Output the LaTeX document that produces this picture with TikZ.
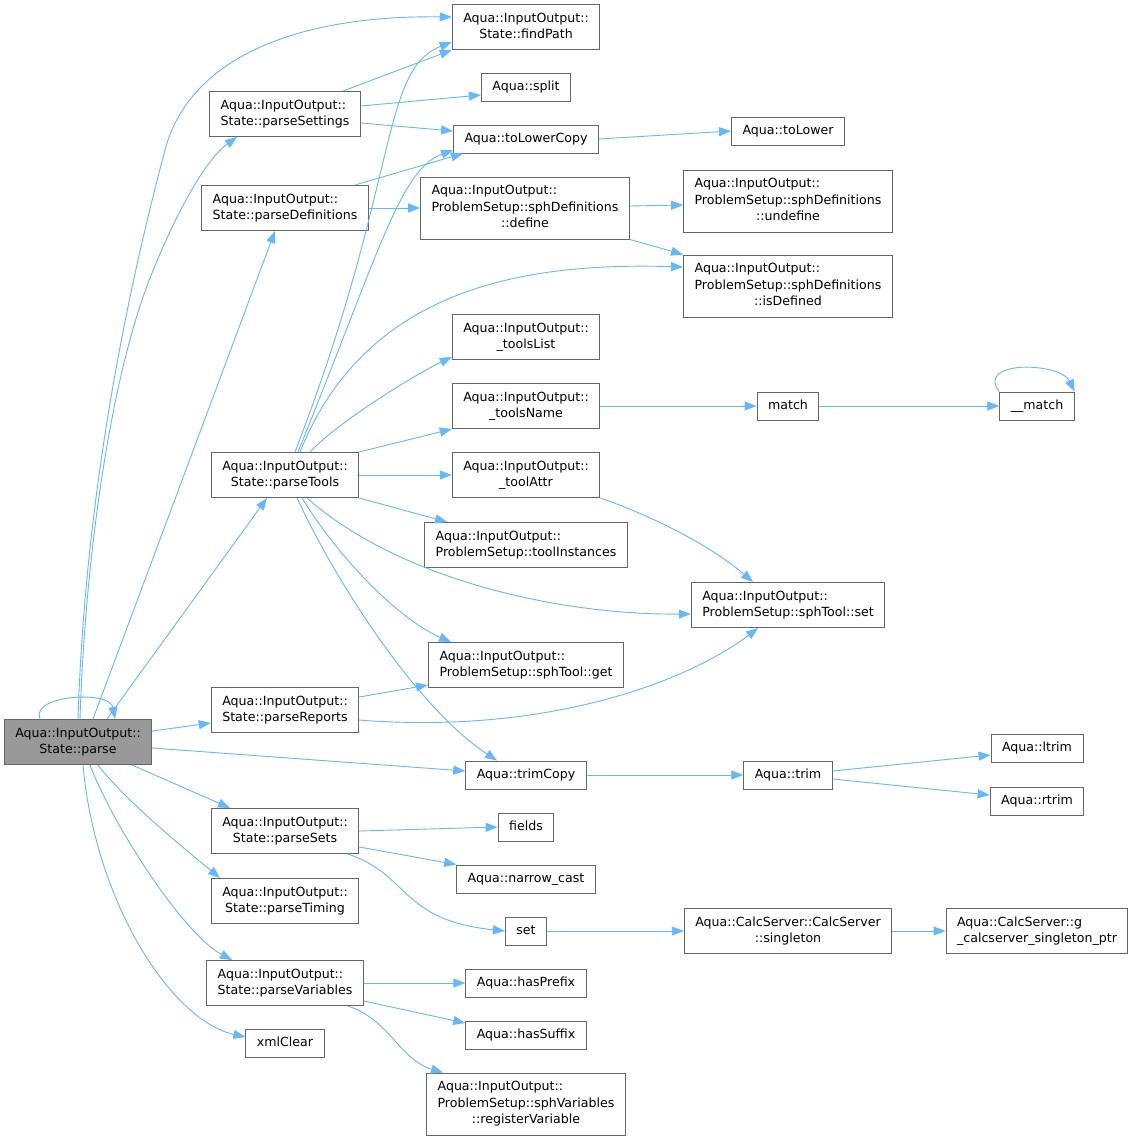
\documentclass[tikz,border=0pt]{standalone}
\usepackage{fontspec}
\setmainfont{DejaVu Sans}
\usepackage{xcolor}
\usetikzlibrary{arrows.meta,
                positioning}
\definecolor{edgeblue}{HTML}{63B8FF}
\definecolor{boxgray}{HTML}{666666}
\definecolor{rootgray}{HTML}{999999}
\newcommand{\fntwo}[2]{\begin{tabular}{@{}l@{}}#1\\\multicolumn{1}{@{}c@{}}{#2}\end{tabular}}
\newcommand{\fnthree}[3]{\begin{tabular}{@{}l@{}}#1\\#2\\\multicolumn{1}{@{}c@{}}{#3}\end{tabular}}
\tikzstyle{fnbox} = [draw=boxgray, line width=1pt, fill=white, inner xsep=11pt, inner ysep=1pt, font=\fontsize{12.6}{16.5}\selectfont]
\tikzstyle{fn} = [fnbox, text height=9.6pt, text depth=3pt, minimum height=28pt]
\tikzstyle{fn2} = [fnbox, minimum height=45pt]
\tikzstyle{fn3} = [fnbox, minimum height=62pt]
\tikzstyle{call} = [edgeblue, line width=0.9pt, -{Triangle[length=12pt,width=9pt]}]

\begin{document}
\begin{tikzpicture}[x=1pt,y=-1pt]
    \path[use as bounding box, fill=white] (0,0) rectangle (1136,1141);

    % column 1
    \node[fn2, fill=rootgray] (parse) at (78,742) {\fntwo{Aqua::InputOutput::}{State::parse}};

    % column 2
    \node[fn2] (parseSettings) at (285,114) {\fntwo{Aqua::InputOutput::}{State::parseSettings}};
    \node[fn2] (parseDefinitions) at (285,208) {\fntwo{Aqua::InputOutput::}{State::parseDefinitions}};
    \node[fn2] (parseTools) at (285,475) {\fntwo{Aqua::InputOutput::}{State::parseTools}};
    \node[fn2] (parseReports) at (285,710) {\fntwo{Aqua::InputOutput::}{State::parseReports}};
    \node[fn2] (parseSets) at (285,831) {\fntwo{Aqua::InputOutput::}{State::parseSets}};
    \node[fn2] (parseTiming) at (285,901) {\fntwo{Aqua::InputOutput::}{State::parseTiming}};
    \node[fn2] (parseVariables) at (285,983) {\fntwo{Aqua::InputOutput::}{State::parseVariables}};
    \node[fn] (xmlClear) at (285,1043) {xmlClear};

    % column 3
    \node[fn2] (findPath) at (526,27) {\fntwo{Aqua::InputOutput::}{State::findPath}};
    \node[fn] (split) at (526,87) {Aqua::split};
    \node[fn] (toLowerCopy) at (526,139) {Aqua::toLowerCopy};
    \node[fn3] (define) at (525,208) {\fnthree{Aqua::InputOutput::}{ProblemSetup::sphDefinitions}{::define}};
    \node[fn2] (toolsList) at (526,337) {\fntwo{Aqua::InputOutput::}{\_toolsList}};
    \node[fn2] (toolsName) at (526,406) {\fntwo{Aqua::InputOutput::}{\_toolsName}};
    \node[fn2] (toolAttr) at (526,475) {\fntwo{Aqua::InputOutput::}{\_toolAttr}};
    \node[fn2] (toolInstances) at (526,545) {\fntwo{Aqua::InputOutput::}{ProblemSetup::toolInstances}};
    \node[fn2] (toolGet) at (526,665) {\fntwo{Aqua::InputOutput::}{ProblemSetup::sphTool::get}};
    \node[fn] (trimCopy) at (526,775) {Aqua::trimCopy};
    \node[fn] (fields) at (526,827) {fields};
    \node[fn] (narrowCast) at (526,879) {Aqua::narrow\_cast};
    \node[fn] (set) at (526,931) {set};
    \node[fn] (hasPrefix) at (526,983) {Aqua::hasPrefix};
    \node[fn] (hasSuffix) at (526,1035) {Aqua::hasSuffix};
    \node[fn3] (registerVariable) at (526,1104) {\fnthree{Aqua::InputOutput::}{ProblemSetup::sphVariables}{::registerVariable}};

    % column 4
    \node[fn] (toLower) at (788,131) {Aqua::toLower};
    \node[fn3] (undefine) at (788,201) {\fnthree{Aqua::InputOutput::}{ProblemSetup::sphDefinitions}{::undefine}};
    \node[fn3] (isDefined) at (788,286) {\fnthree{Aqua::InputOutput::}{ProblemSetup::sphDefinitions}{::isDefined}};
    \node[fn] (match) at (788,406) {match};
    \node[fn2] (toolSet) at (788,605) {\fntwo{Aqua::InputOutput::}{ProblemSetup::sphTool::set}};
    \node[fn] (trim) at (788,775) {Aqua::trim};
    \node[fn2] (singleton) at (788,931) {\fntwo{Aqua::CalcServer::CalcServer}{::singleton}};

    % column 5
    \node[fn] (umatch) at (1037,406) {\_\_match};
    \node[fn] (ltrim) at (1037,748) {Aqua::ltrim};
    \node[fn] (rtrim) at (1037,801) {Aqua::rtrim};
    \node[fn2] (singletonPtr) at (1037,931) {\fntwo{Aqua::CalcServer::g}{\_calcserver\_singleton\_ptr}};

    % calls from parse
    \draw[call] (parse.north) .. controls (85,500) and (125,300) .. (165,150) .. controls (190,56) and (300,15) .. ([yshift=10pt]findPath.west);
    \draw[call] ([xshift=2pt]parse.north) .. controls (85,560) and (110,380) .. (150,278) .. controls (175,215) and (205,160) .. ([xshift=-48pt]parseSettings.south);
    \draw[call] ([xshift=15pt]parse.north) -- ([xshift=-10pt]parseDefinitions.south);
    \draw[call] ([xshift=29pt]parse.north) -- ([xshift=-18pt]parseTools.south);
    \draw[call] ([xshift=-38pt]parse.north) .. controls (30,695) and (110,690) .. ([xshift=37pt]parse.north);
    \draw[call] ([yshift=11pt]parse.east) -- ([yshift=-13pt]parseReports.west);
    \draw[call] ([yshift=-6pt]parse.east) -- ([yshift=4pt]trimCopy.west);
    \draw[call] ([xshift=54pt]parse.south) -- ([xshift=-55pt]parseSets.north);
    \draw[call] ([xshift=20pt]parse.south) .. controls (125,800) and (180,845) .. ([xshift=-65pt]parseTiming.north);
    \draw[call] ([xshift=12pt]parse.south) .. controls (115,830) and (185,935) .. ([xshift=-53pt]parseVariables.north);
    \draw[call] ([xshift=5pt]parse.south) .. controls (95,900) and (170,1020) .. ([yshift=6pt]xmlClear.west);

    % calls from parseSettings, parseDefinitions
    \draw[call] ([xshift=58pt]parseSettings.north) -- (findPath.south west);
    \draw[call] ([yshift=8pt]parseSettings.east) -- ([yshift=-8pt]split.west);
    \draw[call] ([yshift=-9pt]parseSettings.east) -- ([yshift=8pt]toLowerCopy.west);
    \draw[call] ([xshift=70pt]parseDefinitions.north) -- ([xshift=-63pt]toLowerCopy.south);
    \draw[call] (parseDefinitions.east) -- (define.west);

    % calls from parseTools
    \draw[call] ([xshift=10pt]parseTools.north) .. controls (400,180) and (380,70) .. ([yshift=-15pt]findPath.west);
    \draw[call] ([xshift=13pt]parseTools.north) .. controls (380,250) and (400,170) .. ([yshift=-11pt]toLowerCopy.west);
    \draw[call] ([xshift=15pt]parseTools.north) .. controls (365,290) and (520,262) .. ([yshift=19pt]isDefined.west);
    \draw[call] ([xshift=25pt]parseTools.north) .. controls (340,420) and (420,372) .. ([yshift=-20pt]toolsList.west);
    \draw[call] (parseTools.north east) -- (toolsName.south west);
    \draw[call] (parseTools.east) -- (toolAttr.west);
    \draw[call] (parseTools.south east) -- ([xshift=23pt]toolInstances.north west);
    \draw[call] ([xshift=22pt]parseTools.south) .. controls (400,580) and (560,615) .. ([yshift=-9pt]toolSet.west);
    \draw[call] ([xshift=17pt]parseTools.south) .. controls (340,560) and (400,620) .. ([xshift=23pt]toolGet.north west);
    \draw[call] ([xshift=12pt]parseTools.south) .. controls (340,590) and (420,710) .. ([xshift=-29pt]trimCopy.north);

    % calls further right
    \draw[call] (toLowerCopy.east) -- (toLower.west);
    \draw[call] ([yshift=2pt]define.east) -- ([yshift=-4pt]undefine.west);
    \draw[call] (define.south east) -- (isDefined.north west);
    \draw[call] (toolsName.east) -- (match.west);
    \draw[call] (match.east) -- (umatch.west);
    \draw[call] (umatch.north west) .. controls (975,360) and (1060,362) .. (umatch.north east);
    \draw[call] (toolAttr.south east) .. controls (650,515) and (710,545) .. ([xshift=-35pt]toolSet.north);
    \draw[call] ([yshift=13pt]parseReports.east) -- ([yshift=-20pt]toolGet.west);
    \draw[call] ([yshift=-10pt]parseReports.east) .. controls (550,735) and (690,680) .. ([xshift=-30pt]toolSet.south);
    \draw[call] (trimCopy.east) -- (trim.west);
    \draw[call] ([yshift=4pt]trim.east) -- ([yshift=-7pt]ltrim.west);
    \draw[call] ([yshift=-4pt]trim.east) -- ([yshift=6pt]rtrim.west);
    \draw[call] (parseSets.east) -- (fields.west);
    \draw[call] ([yshift=-16pt]parseSets.east) -- (narrowCast.north west);
    \draw[call] ([xshift=63pt]parseSets.south) .. controls (410,875) and (400,920) .. (set.west);
    \draw[call] (set.east) -- (singleton.west);
    \draw[call] (singleton.east) -- (singletonPtr.west);
    \draw[call] (parseVariables.east) -- (hasPrefix.west);
    \draw[call] ([yshift=-18pt]parseVariables.east) -- ([yshift=12pt]hasSuffix.west);
    \draw[call] ([xshift=63pt]parseVariables.south) .. controls (390,1020) and (400,1060) .. ([xshift=17pt]registerVariable.north west);
\end{tikzpicture}
\end{document}
